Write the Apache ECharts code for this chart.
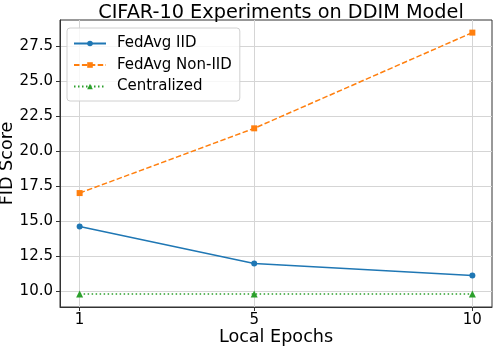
<!DOCTYPE html>
<html>
<head>
<meta charset="utf-8">
<script src="https://cdn.jsdelivr.net/npm/echarts@6/dist/echarts.min.js"></script>
<style>
html,body{margin:0;padding:0;background:#fff;}
#chart{width:494px;height:348px;}
</style>
</head>
<body>
<div id="chart"></div>
<script>
const epochs = [1, 5, 10];
const fedAvgIID = [14.62, 11.97, 11.12];
const fedAvgNonIID = [17.0, 21.62, 28.45];
const centralized = [9.8, 9.8, 9.8];
const xTicks = [1, 5, 10];
const yTicks = [10, 12.5, 15, 17.5, 20, 22.5, 25, 27.5];

const FONT = "DejaVu Sans";
const pairs = arr => epochs.map((e, i) => [e, arr[i]]);

const chart = echarts.init(document.getElementById('chart'), null, {renderer: 'canvas'});
chart.setOption({
  animation: false,
  backgroundColor: '#ffffff',
  title: {
    text: 'CIFAR-10 Experiments on DDIM Model',
    left: 276, top: -2, textAlign: 'center',
    textStyle: {fontFamily: FONT, fontSize: 19.3, fontWeight: 'normal', color: '#000'}
  },
  legend: {
    orient: 'vertical',
    left: 67, top: 28,
    padding: [8, 8, 7, 6],
    itemGap: 6.5,
    itemWidth: 32, itemHeight: 7,
    borderColor: '#d0d0d0', borderWidth: 1, borderRadius: 3,
    backgroundColor: 'rgba(255,255,255,0.8)',
    textStyle: {fontFamily: FONT, fontSize: 15, color: '#000', lineHeight: 15, padding: [0, 0, 0, 6]},
    data: ['FedAvg IID', 'FedAvg Non-IID', 'Centralized']
  },
  grid: {
    left: 60, right: 2, top: 20, bottom: 41,
    containLabel: false, outerBoundsMode: 'none',
    show: true, borderColor: '#333', borderWidth: 1, backgroundColor: 'transparent'
  },
  xAxis: {
    type: 'value', min: 0.55, max: 10.45,
    name: 'Local Epochs', nameLocation: 'middle', nameGap: 21, nameMoveOverlap: false,
    nameTextStyle: {fontFamily: FONT, fontSize: 17.6, color: '#000'},
    axisLine: {show: true, lineStyle: {color: '#333'}},
    axisTick: {show: true, customValues: xTicks, length: 4, lineStyle: {color: '#333'}},
    axisLabel: {customValues: xTicks, fontFamily: FONT, fontSize: 15, color: '#000', margin: 6},
    splitLine: {show: true, lineStyle: {color: '#d5d5d5', width: 1}}
  },
  yAxis: {
    type: 'value', min: 8.87, max: 29.35,
    name: 'FID Score', nameLocation: 'middle', nameGap: 44, nameRotate: 90, nameMoveOverlap: false,
    nameTextStyle: {fontFamily: FONT, fontSize: 17.6, color: '#000'},
    axisLine: {show: true, lineStyle: {color: '#333'}},
    axisTick: {show: true, customValues: yTicks, length: 4, lineStyle: {color: '#333'}},
    axisLabel: {customValues: yTicks, fontFamily: FONT, fontSize: 15, color: '#000', margin: 7,
      formatter: v => v.toFixed(1)},
    splitLine: {show: true, lineStyle: {color: '#d5d5d5', width: 1}}
  },
  series: [
    {
      name: 'FedAvg IID', type: 'line', data: pairs(fedAvgIID),
      symbol: 'circle', symbolSize: 6,
      itemStyle: {color: '#1f77b4'},
      lineStyle: {color: '#1f77b4', width: 1.5, type: 'solid'},
      z: 3
    },
    {
      name: 'FedAvg Non-IID', type: 'line', data: pairs(fedAvgNonIID),
      symbol: 'rect', symbolSize: 6,
      itemStyle: {color: '#ff7f0e'},
      lineStyle: {color: '#ff7f0e', width: 1.5, type: [5.5, 2.4]},
      z: 3
    },
    {
      name: 'Centralized', type: 'line', data: pairs(centralized),
      symbol: 'triangle', symbolSize: 7,
      itemStyle: {color: '#2ca02c'},
      lineStyle: {color: '#2ca02c', width: 1.5, type: [1.5, 2.5]},
      z: 3
    }
  ]
});
</script>
</body>
</html>
